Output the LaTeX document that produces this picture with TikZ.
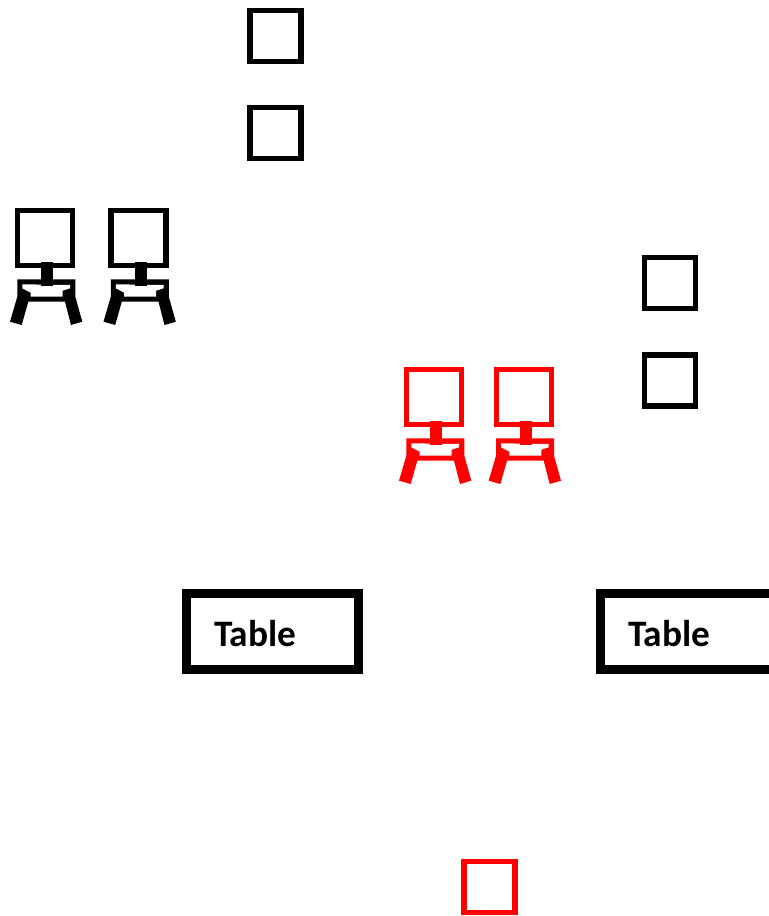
\documentclass[tikz,border=0pt]{standalone}
\usepackage{fontspec}
\setmainfont{Carlito}
\usepackage{tikz}
\usetikzlibrary{positioning}

\begin{document}
\begin{tikzpicture}[
    x=0.75pt, y=-0.75pt,
    stool/.style={
      rectangle, draw=#1, line width=4.1pt, fill=white,
      inner sep=0pt, outer sep=0pt,
      minimum width=38.25pt, minimum height=38.25pt
    },
    seat/.style={
      rectangle, draw=#1, line width=3.9pt, fill=white,
      inner sep=0pt, outer sep=0pt,
      minimum width=41.25pt, minimum height=41.25pt
    },
    tablebox/.style={
      rectangle, draw=black, line width=6.5pt, fill=white,
      inner xsep=20.8pt, inner ysep=0pt, outer sep=0pt,
      text width=87.4pt, align=left,
      text height=21.8pt, text depth=0pt,
      minimum height=57.25pt,
      font=\fontsize{28}{32}\selectfont\bfseries
    },
    pics/chair/.style={
      code={
        % frame and legs
        \fill[#1] (2.3,71.3) -- (60.3,71.3) -- (60.3,88.7) -- (67.3,113.7)
          -- (56,117) -- (50,93.7) -- (13.3,93.7) -- (6.7,117)
          -- (-5,113.7) -- (2.3,88.7) -- cycle;
        % opening under the seat
        \fill[white] (7.3,76.3) -- (55,77) -- (55,80.3) -- (47.7,82.7)
          -- (47.7,88.7) -- (15.7,88.7) -- (15.7,84.7) -- (7.3,80.3) -- cycle;
        % back and stem
        \node[seat=#1] (back) at (30,30) {};
        \fill[#1] (26.3,54) rectangle (38.3,78);
      }
    }
  ]

    \useasboundingbox (0,0) rectangle (768,916);

    % ── Stools, top ──────────────────────────────────────────────────────
    \node[stool=black] (s_top1) at (275.5, 36)  {};
    \node[stool=black] (s_top2) at (275.5, 133) {};

    % ── Stools, right ────────────────────────────────────────────────────
    \node[stool=black] (s_right1) at (670, 283)   {};
    \node[stool=black] (s_right2) at (670, 380.5) {};

    % ── Stool, bottom ────────────────────────────────────────────────────
    \node[stool=red] (s_bottom) at (489.5, 887) {};

    % ── Chairs ───────────────────────────────────────────────────────────
    \pic (c_black1) at (15, 208)    {chair=black};
    \pic (c_black2) at (108.5, 208) {chair=black};
    \pic (c_red1)   at (404, 367)   {chair=red};
    \pic (c_red2)   at (493.7, 367) {chair=red};

    % ── Tables ───────────────────────────────────────────────────────────
    \node[tablebox] (t_left) at (272.5, 631.5) {Table};
    \node[tablebox, text width=100pt, anchor=west] (t_right) at (600.3, 631.5) {Table};

  \end{tikzpicture}
\end{document}
